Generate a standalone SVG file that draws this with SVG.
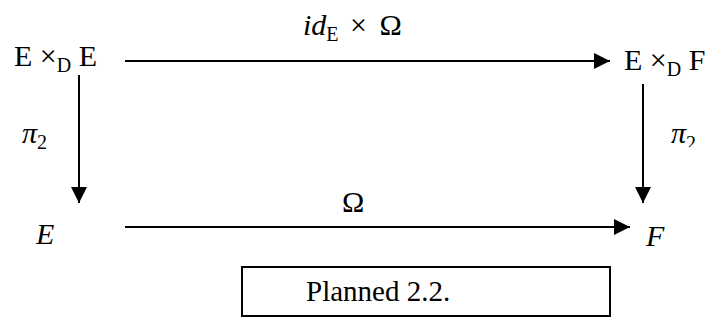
<svg xmlns="http://www.w3.org/2000/svg" width="712" height="336" viewBox="0 0 712 336">
  <style>
    .up { font-family: "Liberation Serif", "DejaVu Serif", serif; font-size: 30px; fill: #000; }
    .it { font-family: "Liberation Serif", "DejaVu Serif", serif; font-style: italic; font-size: 30px; fill: #000; }
    .cap { font-family: "Liberation Serif", "DejaVu Serif", serif; font-size: 29px; fill: #000; }
    .sub { font-size: 20px; }
    .edge { stroke: #000; stroke-width: 2; fill: none; }
  </style>
  <defs>
    <marker id="head" viewBox="0 0 16 16" refX="16" refY="8" markerWidth="16" markerHeight="16" markerUnits="userSpaceOnUse" orient="auto">
      <path d="M0,0 L16,8 L0,16 Z" fill="#000"/>
    </marker>
    <clipPath id="rightEdgeClip">
      <rect x="660" y="110" width="52" height="37"/>
    </clipPath>
  </defs>

  <!-- connectors -->
  <g id="connectors">
    <line class="edge" x1="125" y1="61" x2="610" y2="61" marker-end="url(#head)"/>
    <line class="edge" x1="79" y1="75" x2="79" y2="203" marker-end="url(#head)"/>
    <line class="edge" x1="643" y1="84" x2="643" y2="203" marker-end="url(#head)"/>
    <line class="edge" x1="125" y1="227" x2="630" y2="227" marker-end="url(#head)"/>
    <text class="it" x="303" y="35">id<tspan class="up sub" dy="6" font-style="normal">E</tspan><tspan class="up" dx="4" dy="-6" font-style="normal"> ×</tspan><tspan class="up" dx="5" font-style="normal"> Ω</tspan></text>
    <text class="it" x="22" y="143">π<tspan class="sub" dy="6" font-style="normal">2</tspan></text>
    <g clip-path="url(#rightEdgeClip)">
      <text class="it" x="671" y="143">π<tspan class="sub" dy="7" font-style="normal">2</tspan></text>
    </g>
    <text class="up" x="342" y="212">Ω</text>
  </g>

  <!-- nodes -->
  <g id="node-ExE">
    <text class="up" x="14" y="66">E ×<tspan class="sub" dy="6">D</tspan><tspan dy="-6"> E</tspan></text>
  </g>
  <g id="node-ExF">
    <text class="up" x="624" y="70">E ×<tspan class="sub" dy="6">D</tspan><tspan dy="-6"> F</tspan></text>
  </g>
  <g id="node-E">
    <text class="it" x="36" y="244">E</text>
  </g>
  <g id="node-F">
    <text class="it" x="646" y="246">F</text>
  </g>

  <!-- caption box -->
  <g id="caption">
    <rect x="242" y="267" width="368" height="49" fill="#fff" stroke="#000" stroke-width="2"/>
    <text class="cap" x="306" y="301">Planned 2.2.</text>
  </g>
</svg>
